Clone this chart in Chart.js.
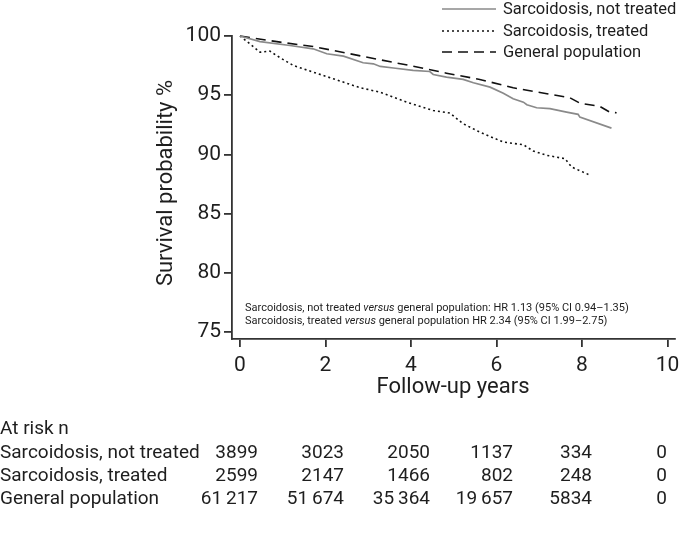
<!DOCTYPE html>
<html>
<head>
<meta charset="utf-8">
<script src="https://cdn.jsdelivr.net/npm/chart.js@4.4.0/dist/chart.umd.min.js"></script>
<style>
  body { margin: 0; background: #fff; font-family: Roboto, sans-serif; color: #1e1e1e; }
  #wrap { position: relative; width: 679px; height: 534px; overflow: hidden; }
  canvas { position: absolute; left: 0; top: 0; }
  .txt { position: absolute; white-space: nowrap; line-height: 20px; }
  .num { position: absolute; white-space: nowrap; line-height: 20px; text-align: right; width: 80px; }
</style>
</head>
<body>
<div id="wrap">
  <canvas id="line-chart" width="679" height="534"></canvas>
</div>
<script>
// Kaplan-Meier style curves (years, survival %)
const notTreatedYears = [0, 0.47, 1.17, 1.71, 2.03, 2.42, 2.88, 3.12, 3.28, 3.59, 4.05, 4.44, 4.52, 4.83, 5.22, 5.46, 5.85, 6.16, 6.39, 6.63, 6.71, 6.94, 7.25, 7.64, 7.91, 7.95, 8.69];
const notTreatedSurv  = [100, 99.52, 99.2, 98.92, 98.5, 98.3, 97.74, 97.65, 97.43, 97.3, 97.1, 97.0, 96.75, 96.53, 96.33, 96.05, 95.68, 95.17, 94.7, 94.41, 94.19, 93.94, 93.86, 93.57, 93.38, 93.15, 92.22];

const treatedYears = [0, 0.23, 0.47, 0.70, 0.94, 1.25, 1.71, 2.18, 2.81, 3.27, 3.90, 4.52, 4.91, 5.22, 5.61, 6.16, 6.63, 6.86, 7.18, 7.60, 7.76, 8.15];
const treatedSurv  = [100, 99.34, 98.63, 98.72, 98.16, 97.51, 96.95, 96.39, 95.63, 95.26, 94.41, 93.71, 93.49, 92.59, 91.88, 91.04, 90.82, 90.28, 89.92, 89.64, 88.93, 88.31];

const generalYears = [0, 0.94, 1.71, 2.50, 3.28, 4.05, 4.83, 5.61, 6.39, 7.18, 7.72, 7.95, 8.42, 8.65, 8.81];
const generalSurv  = [100, 99.48, 99.11, 98.55, 97.99, 97.45, 96.86, 96.33, 95.63, 95.12, 94.78, 94.33, 94.05, 93.57, 93.52];

const xTicks = [0, 2, 4, 6, 8, 10];
const yTicks = [75, 80, 85, 90, 95, 100];

// numbers at risk
const riskGroups = ['Sarcoidosis, not treated', 'Sarcoidosis, treated', 'General population'];
const riskNotTreated = [3899, 3023, 2050, 1137, 334, 0];
const riskTreated = [2599, 2147, 1466, 802, 248, 0];
const riskGeneral = [61217, 51674, 35364, 19657, 5834, 0];

const hrLines = [
  'Sarcoidosis, not treated <i>versus</i> general population: HR 1.13 (95% CI 0.94–1.35)',
  'Sarcoidosis, treated <i>versus</i> general population HR 2.34 (95% CI 1.99–2.75)'
];

function pts(xs, ys) {
  return xs.map(function (x, i) { return { x: x, y: ys[i] } })
}

function fmt(n) {
  if (n < 10000) return String(n);
  return String(n).replace(/\B(?=(\d{3})+(?!\d))/g, "\u2009");
}

const legendPlugin = {
  id: 'kmLegend',
  afterDraw(chart) {
    const ctx = chart.ctx;
    const rows = [9, 31, 52];
    ctx.save();
    chart.data.datasets.forEach(function (ds, i) {
      ctx.beginPath();
      ctx.strokeStyle = ds.borderColor;
      ctx.lineWidth = ds.borderWidth;
      ctx.setLineDash(ds.borderDash || []);
      ctx.moveTo(442, rows[i]);
      ctx.lineTo(496, rows[i]);
      ctx.stroke();
      ctx.setLineDash([]);
      ctx.fillStyle = '#1e1e1e';
      ctx.font = '16.5px Roboto';
      ctx.textBaseline = 'middle';
      ctx.fillText(ds.label, 503, rows[i] + 1);
    });
    ctx.restore();
  }
};

new Chart(document.getElementById('line-chart'), {
  type: 'scatter',
  data: {
    datasets: [
      { label: 'Sarcoidosis, not treated', data: pts(notTreatedYears, notTreatedSurv), showLine: true,
        borderColor: '#8a8a8a', borderWidth: 1.7, pointRadius: 0 },
      { label: 'Sarcoidosis, treated', data: pts(treatedYears, treatedSurv), showLine: true,
        borderColor: '#111', borderWidth: 1.6, borderDash: [2, 3], pointRadius: 0 },
      { label: 'General population', data: pts(generalYears, generalSurv), showLine: true,
        borderColor: '#111', borderWidth: 1.6, borderDash: [10, 6], pointRadius: 0 }
    ]
  },
  options: {
    responsive: false,
    animation: false,
    clip: false,
    layout: { padding: { left: 0, top: 36, right: 4, bottom: 0 } },
    plugins: { legend: { display: false }, tooltip: { enabled: false } },
    scales: {
      x: {
        type: 'linear', min: -0.187, max: 10.176,
        afterBuildTicks: function (s) { s.ticks = xTicks.map(function (v) { return { value: v } }) },
        afterFit: function (s) { s.height = 195; s.paddingLeft = 0; s.paddingRight = 0 },
        border: { color: '#333', width: 1.8 },
        grid: { drawOnChartArea: false, tickLength: 8, color: '#333', lineWidth: 1.8 },
        ticks: { color: '#1e1e1e', font: { family: 'Roboto', size: 21 }, padding: 6, maxRotation: 0 }
      },
      y: {
        type: 'linear', min: 74.41, max: 100,
        afterBuildTicks: function (s) { s.ticks = yTicks.map(function (v) { return { value: v } }) },
        afterFit: function (s) { s.width = 232; s.paddingTop = 0; s.paddingBottom = 0 },
        border: { color: '#333', width: 1.8 },
        grid: { drawOnChartArea: false, tickLength: 8, color: '#333', lineWidth: 1.8 },
        ticks: { color: '#1e1e1e', font: { family: 'Roboto', size: 21 }, padding: 3 }
      }
    }
  },
  plugins: [legendPlugin]
});

// text around the plot
const wrap = document.getElementById('wrap');
function addText(html, left, top, size, extra) {
  const d = document.createElement('div');
  d.className = 'txt';
  d.innerHTML = html;
  d.style.left = left + 'px';
  d.style.top = top + 'px';
  d.style.fontSize = size + 'px';
  if (extra) Object.assign(d.style, extra);
  wrap.appendChild(d);
  return d;
}

addText('Survival probability %', 165 - 120, 183 - 10, 22, { width: '240px', textAlign: 'center', transform: 'rotate(-90deg)' });
addText('Follow-up years', 453 - 100, 386 - 10, 22, { width: '200px', textAlign: 'center' });
addText(hrLines[0], 245, 308 - 10, 11);
addText(hrLines[1], 245, 321 - 10, 11);

addText('At risk n', 0, 428 - 10, 19);
const rowY = [452, 475, 498];
const colRight = [258, 344, 430, 513, 592, 667];
[riskNotTreated, riskTreated, riskGeneral].forEach(function (row, r) {
  addText(riskGroups[r], 0, rowY[r] - 10, 19);
  row.forEach(function (n, c) {
    const d = document.createElement('div');
    d.className = 'num';
    d.textContent = fmt(n);
    d.style.left = (colRight[c] - 80) + 'px';
    d.style.top = (rowY[r] - 10) + 'px';
    d.style.fontSize = '19px';
    wrap.appendChild(d);
  });
});
</script>
</body>
</html>
